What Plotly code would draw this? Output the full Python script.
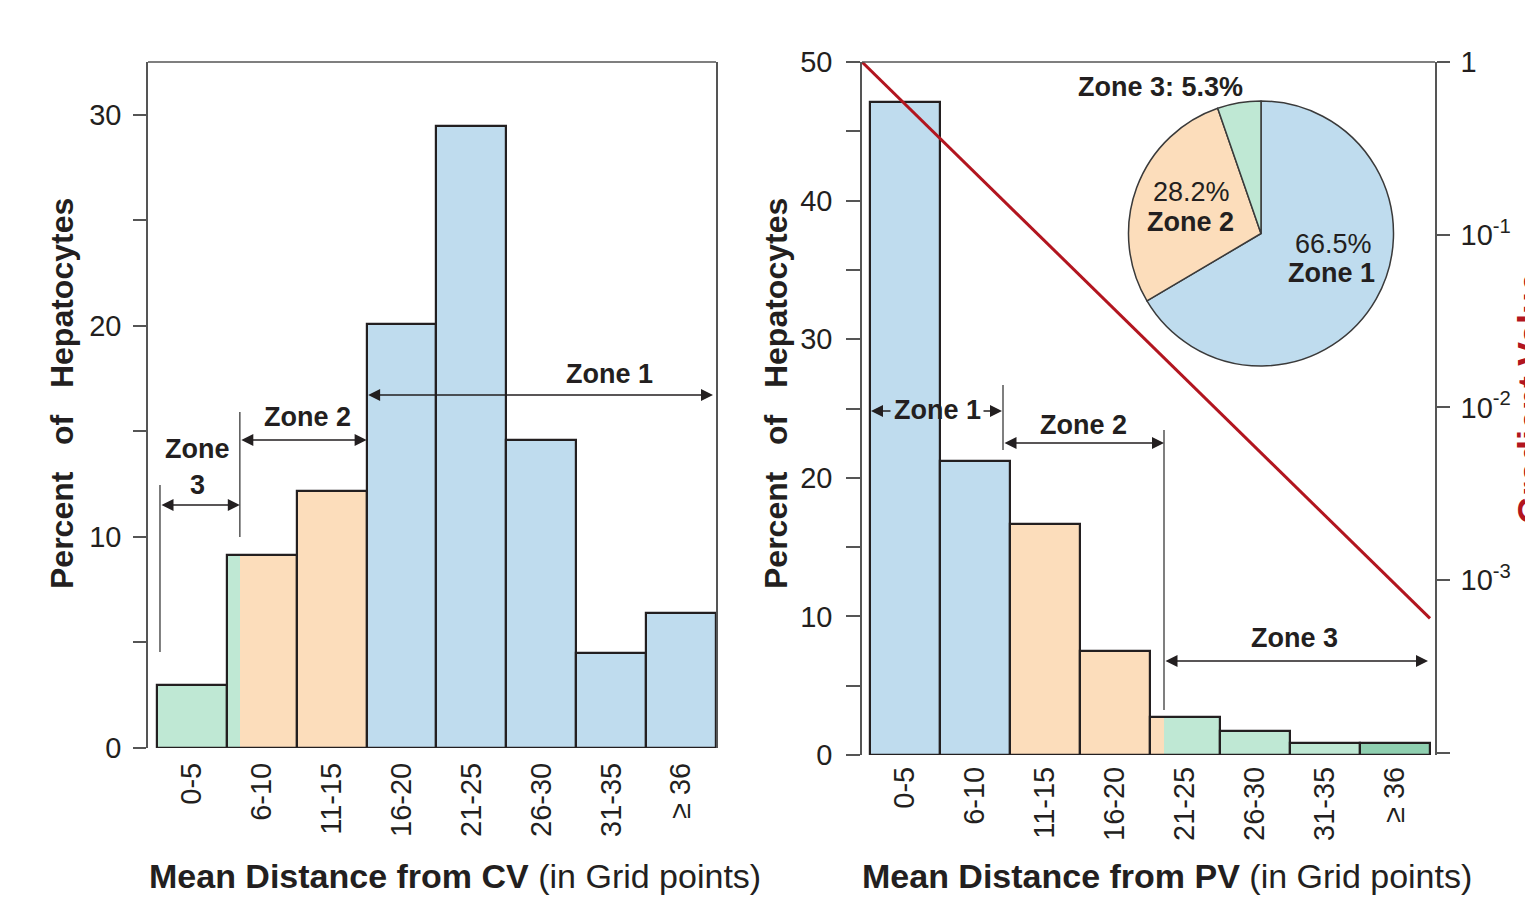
import plotly.graph_objects as go

# The page body adds an 8px margin; size the figure so it fills the 1533x908 viewport.
OFF = 8
W, H = 1533 - OFF, 908 - OFF

# ---------------- data ----------------
categories = ["0-5", "6-10", "11-15", "16-20", "21-25", "26-30", "31-35", "≥ 36"]
cv_percent = [3.0, 9.15, 12.2, 20.1, 29.5, 14.6, 4.5, 6.4]
pv_percent = [47.1, 21.2, 16.7, 7.5, 2.75, 1.73, 0.87, 0.87]
gradient_pos = [-0.614, 7.5]           # in bin-index units of the PV axis
gradient_val = [1.0, 6.0e-4]
pie_labels = ["Zone 1", "Zone 2", "Zone 3"]
pie_values = [66.5, 28.2, 5.3]

BLUE = "#BFDCEE"
ORANGE = "#FCDDBB"
GREEN = "#BFE8D4"
DKGREEN = "#8FCFB0"
INK = "#231F20"
AX = "#555555"
RED = "#B2151F"
FONT = "Liberation Sans"

cv_colors = [GREEN, ORANGE, ORANGE, BLUE, BLUE, BLUE, BLUE, BLUE]
pv_colors = [BLUE, BLUE, ORANGE, ORANGE, GREEN, GREEN, GREEN, DKGREEN]
idx = list(range(len(categories)))

def px_x(p):  # screen pixel -> paper fraction
    return (p - OFF) / W

def px_y(p):
    return 1 - (p - OFF) / H

fig = go.Figure()

# ---- left histogram ----
fig.add_trace(go.Bar(x=idx, y=cv_percent, width=1, marker=dict(color=cv_colors, line=dict(width=0)),
                     xaxis="x", yaxis="y", showlegend=False))
fig.add_trace(go.Bar(x=[1 - 0.5 + 0.093], y=[cv_percent[1]], width=0.186,
                     marker=dict(color=GREEN, line=dict(width=0)), xaxis="x", yaxis="y", showlegend=False))
fig.add_trace(go.Bar(x=idx, y=cv_percent, width=1,
                     marker=dict(color="rgba(0,0,0,0)", line=dict(width=2.2, color=INK)),
                     xaxis="x", yaxis="y", showlegend=False))

# ---- right histogram ----
fig.add_trace(go.Bar(x=idx, y=pv_percent, width=1, marker=dict(color=pv_colors, line=dict(width=0)),
                     xaxis="x2", yaxis="y2", showlegend=False))
fig.add_trace(go.Bar(x=[4 - 0.5 + 0.1], y=[pv_percent[4]], width=0.2,
                     marker=dict(color=ORANGE, line=dict(width=0)), xaxis="x2", yaxis="y2", showlegend=False))
fig.add_trace(go.Bar(x=idx, y=pv_percent, width=1,
                     marker=dict(color="rgba(0,0,0,0)", line=dict(width=2.2, color=INK)),
                     xaxis="x2", yaxis="y2", showlegend=False))

# ---- gradient line ----
fig.add_trace(go.Scatter(x=gradient_pos, y=gradient_val, mode="lines", line=dict(color=RED, width=3),
                         xaxis="x2", yaxis="y3", showlegend=False, cliponaxis=False))

# ---- pie ----
fig.add_trace(go.Pie(labels=pie_labels, values=pie_values, sort=False, direction="clockwise", rotation=0,
                     marker=dict(colors=[BLUE, ORANGE, GREEN], line=dict(color="#3A3A3A", width=1.5)),
                     textinfo="none", hoverinfo="label+percent", showlegend=False,
                     domain=dict(x=[px_x(1128), px_x(1394)], y=[px_y(366), px_y(101)])))

tickfont = dict(family=FONT, size=29, color=INK)

fig.update_layout(
    width=W, height=H, margin=dict(l=0, r=0, t=0, b=0, pad=0),
    paper_bgcolor="white", plot_bgcolor="rgba(0,0,0,0)",
    barmode="overlay", bargap=0, showlegend=False,
    font=dict(family=FONT, color=INK),
    xaxis=dict(domain=[px_x(148), px_x(716)], range=[-0.6286, 7.5], anchor="y", automargin=False,
               tickvals=idx, ticktext=categories, tickangle=-90, tickfont=tickfont,
               showline=False, ticks="", showgrid=False, zeroline=False, ticklabelstandoff=8),
    yaxis=dict(domain=[px_y(748), px_y(62)], range=[0, 32.51], anchor="x", automargin=False,
               tickvals=[0, 5, 10, 15, 20, 25, 30], ticktext=["0", "", "10", "", "20", "", "30"],
               ticks="outside", ticklen=13, tickwidth=1.5, tickcolor=AX, tickfont=tickfont,
               showline=True, linecolor=AX, linewidth=1.5, mirror=True,
               showgrid=False, zeroline=False, ticklabelstandoff=6),
    xaxis2=dict(domain=[px_x(862), px_x(1435)], range=[-0.6143, 7.5714], anchor="y2", automargin=False,
                tickvals=idx, ticktext=categories, tickangle=-90, tickfont=tickfont,
                showline=False, ticks="", showgrid=False, zeroline=False, ticklabelstandoff=5),
    yaxis2=dict(domain=[px_y(755), px_y(62)], range=[0, 50], anchor="x2", automargin=False,
                tickvals=[0, 5, 10, 15, 20, 25, 30, 35, 40, 45, 50],
                ticktext=["0", "", "10", "", "20", "", "30", "", "40", "", "50"],
                ticks="outside", ticklen=14, tickwidth=1.5, tickcolor=AX, tickfont=tickfont,
                showline=True, linecolor=AX, linewidth=1.5,
                showgrid=False, zeroline=False, ticklabelstandoff=8),
    yaxis3=dict(overlaying="y2", side="right", anchor="x2", type="log", range=[-4.013, 0], automargin=False,
                tickvals=[1e-4, 1e-3, 1e-2, 1e-1, 1],
                ticktext=["", "10<sup>-3</sup>", "10<sup>-2</sup>", "10<sup>-1</sup>", "1"],
                ticks="outside", ticklen=13, tickwidth=1.5, tickcolor=AX, tickfont=tickfont,
                showline=True, linecolor=AX, linewidth=1.5,
                showgrid=False, zeroline=False, ticklabelstandoff=5),
)

# frame top lines
for xr, yr in (("x domain", "y domain"), ("x2 domain", "y2 domain")):
    fig.add_shape(type="line", xref=xr, yref=yr, x0=0, x1=1, y0=1, y1=1,
                  line=dict(color=AX, width=1.5))

def vline(xref, yref, x, y0, y1):
    fig.add_shape(type="line", xref=xref, yref=yref, x0=x, x1=x, y0=y0, y1=y1,
                  line=dict(color=AX, width=1.5))

def arrow(xref, yref, x0, x1, y, both=True):
    fig.add_annotation(xref=xref, yref=yref, axref=xref, ayref=yref, x=x1, y=y, ax=x0, ay=y,
                       text="", showarrow=True, arrowhead=2, arrowsize=1.6, arrowwidth=1.5,
                       arrowcolor=INK, arrowside="end+start" if both else "end",
                       startarrowhead=2, startarrowsize=1.6)

def label(xref, yref, x, y, text, size=27):
    fig.add_annotation(xref=xref, yref=yref, x=x, y=y, text=text, showarrow=False,
                       font=dict(family=FONT, size=size, color=INK), xanchor="center", yanchor="middle")

# left panel helpers: screen pixel -> data units
lx = lambda p: (p - 192) / 70
ly = lambda p: (748 - p) / 21.1
vline("x", "y", lx(160), ly(652), ly(485))
vline("x", "y", lx(240), ly(537), ly(412))
arrow("x", "y", lx(160), lx(240), ly(505))
arrow("x", "y", lx(240), lx(367), ly(440))
arrow("x", "y", lx(367), lx(714), ly(395))
label("x", "y", lx(198), ly(449), "<b>Zone</b>")
label("x", "y", lx(198), ly(485), "<b>3</b>")
label("x", "y", lx(308), ly(417), "<b>Zone 2</b>")
label("x", "y", lx(610), ly(374), "<b>Zone 1</b>")

# right panel helpers
rx = lambda p: (p - 905) / 70
ry = lambda p: (755 - p) / 13.86
vline("x2", "y2", rx(1003), ry(450), ry(385))
vline("x2", "y2", rx(1164), ry(710), ry(430))
arrow("x2", "y2", rx(892), rx(871), ry(411), both=False)
arrow("x2", "y2", rx(982), rx(1002), ry(411), both=False)
label("x2", "y2", rx(937), ry(410), "<b>Zone 1</b>")
arrow("x2", "y2", rx(1003), rx(1164), ry(443))
label("x2", "y2", rx(1083), ry(425), "<b>Zone 2</b>")
arrow("x2", "y2", rx(1164), rx(1428), ry(661))
label("x2", "y2", rx(1294), ry(638), "<b>Zone 3</b>")

# pie labels
pl = lambda x, y, t: label("paper", "paper", px_x(x), px_y(y), t)
pl(1160, 87, f"<b>Zone 3: {pie_values[2]}%</b>")
pl(1191, 192, f"{pie_values[1]}%")
pl(1190, 222, "<b>Zone 2</b>")
pl(1333, 244, f"{pie_values[0]}%")
pl(1331, 273, "<b>Zone 1</b>")

# axis titles
nb = "\u00a0"
for x in (62, 776):
    fig.add_annotation(xref="paper", yref="paper", x=px_x(x), y=px_y(394), textangle=-90,
                       text=f"<b>Percent{nb*3}of{nb*3}Hepatocytes</b>", showarrow=False,
                       font=dict(family=FONT, size=32, color=INK), xanchor="center", yanchor="middle")
fig.add_annotation(xref="paper", yref="paper", x=px_x(455), y=px_y(876),
                   text="<b>Mean Distance from CV</b> (in Grid points)", showarrow=False,
                   font=dict(family=FONT, size=34, color=INK), xanchor="center", yanchor="middle")
fig.add_annotation(xref="paper", yref="paper", x=px_x(1167), y=px_y(876),
                   text="<b>Mean Distance from PV</b> (in Grid points)", showarrow=False,
                   font=dict(family=FONT, size=34, color=INK), xanchor="center", yanchor="middle")
fig.add_annotation(xref="paper", yref="paper", x=px_x(1531), y=px_y(398), textangle=-90,
                   text="<b>Gradient Value</b>", showarrow=False,
                   font=dict(family=FONT, size=36, color=RED), xanchor="center", yanchor="middle")

fig.write_html("out.html")
